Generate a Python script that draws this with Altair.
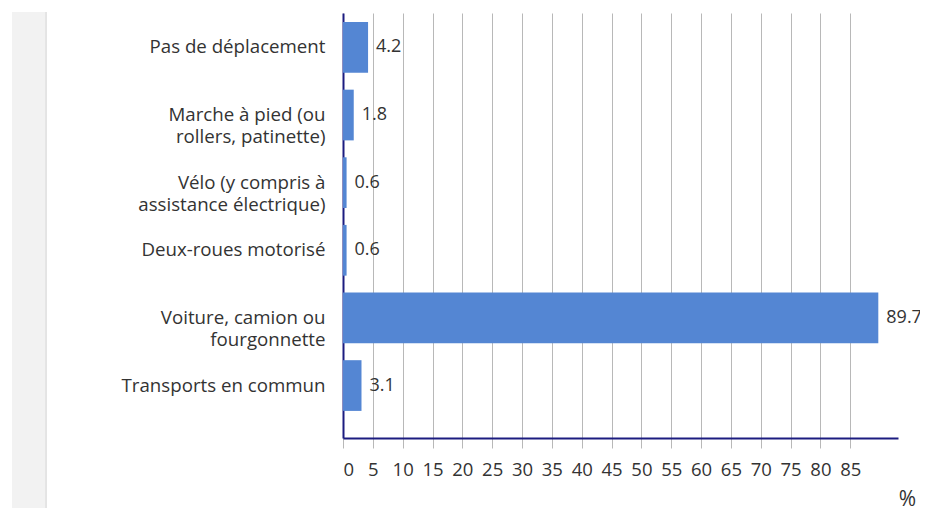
import altair as alt
import pandas as pd

categories = [
    "Pas de déplacement",
    "Marche à pied (ou|rollers, patinette)",
    "Vélo (y compris à|assistance électrique)",
    "Deux-roues motorisé",
    "Voiture, camion ou|fourgonnette",
    "Transports en commun",
]
values = [4.2, 1.8, 0.6, 0.6, 89.7, 3.1]
labels = ["4.2", "1.8", "0.6", "0.6", "89.7", "3.1"]
x_ticks = list(range(0, 90, 5))

df = pd.DataFrame({"cat": categories, "val": values, "lab": labels})

FONT = "Open Sans"
NAVY = "#1c1c80"
FS = 18.7

y_enc = alt.Y(
    "cat:N",
    sort=categories,
    title=None,
    scale=alt.Scale(paddingInner=0.25, paddingOuter=0.267, align=0.25),
    axis=alt.Axis(
        labelExpr="split(datum.label, '|')",
        labelFontSize=FS,
        labelFont=FONT,
        labelColor="#333333",
        labelPadding=18,
        labelLineHeight=22,
        labelLimit=400,
        ticks=False,
        domainColor=NAVY,
        domainWidth=2,
        grid=False,
    ),
)

x_enc = alt.X(
    "val:Q",
    title="%",
    scale=alt.Scale(domain=[0, 93], nice=False),
    axis=alt.Axis(
        values=x_ticks,
        labelOverlap=False,
        grid=True,
        gridColor="#b8b8b8",
        gridWidth=1,
        domainColor=NAVY,
        domainWidth=2,
        tickColor="#b8b8b8",
        tickSize=10,
        labelFontSize=18.5,
        labelFont=FONT,
        labelColor="#333333",
        labelPadding=12,
        titleFont=FONT,
        titleFontSize=21,
        titleFontWeight="normal",
        titleColor="#333333",
        titleX=564,
        titleY=67,
        titleAlign="center",
        titleBaseline="alphabetic",
    ),
)

strip = alt.Chart(df).mark_rect(color="#f2f2f2").encode(
    x=alt.value(-331), x2=alt.value(-297), y=alt.value(-1), y2=alt.value(520)
)
strip_edge = alt.Chart(df).mark_rule(color="#e4e4e4", strokeWidth=1).encode(
    x=alt.value(-297), y=alt.value(-1), y2=alt.value(520)
)

base = alt.Chart(df).encode(x=x_enc, y=y_enc)
bars = base.mark_bar(color="#5486d3")
text = base.mark_text(
    align="left", baseline="middle", dx=8, fontSize=18, font=FONT, color="#333333"
).encode(text="lab:N")

chart = (
    alt.layer(strip, strip_edge, bars, text)
    .properties(
        width=555,
        height=425,
        autosize=alt.AutoSizeParams(type="none"),
        padding={"left": 335, "top": 5, "right": 22, "bottom": 70},
        background="white",
    )
    .configure_view(stroke=None)
)

chart.save("out.html", embed_options={"renderer": "svg", "actions": False})
